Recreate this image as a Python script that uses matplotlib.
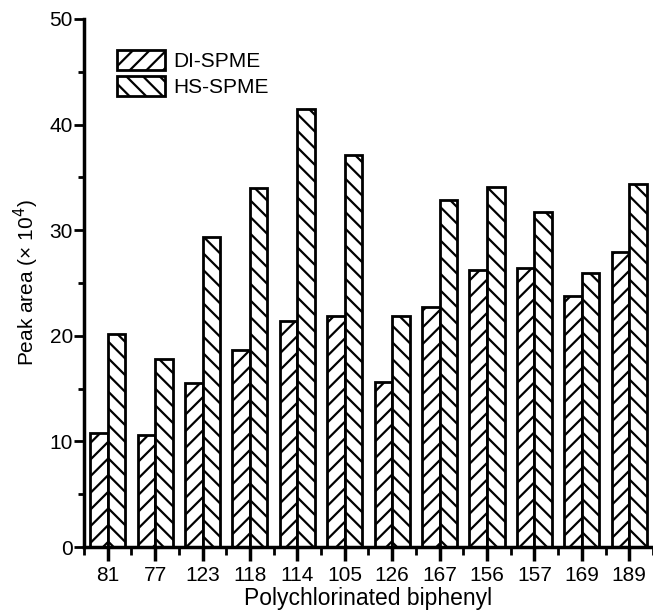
import numpy as np
import matplotlib
matplotlib.use("Agg")
from matplotlib import pyplot as plt

# PCB congeners and peak areas (x 10^4)
congeners = ["81", "77", "123", "118", "114", "105", "126", "167", "156", "157", "169", "189"]
di_spme = [10.8, 10.6, 15.5, 18.7, 21.4, 21.9, 15.6, 22.7, 26.2, 26.4, 23.8, 27.9]
hs_spme = [20.2, 17.8, 29.4, 34.0, 41.5, 37.1, 21.9, 32.9, 34.1, 31.7, 25.9, 34.4]

plt.rcParams['font.family'] = ['Liberation Sans', 'DejaVu Sans']
plt.rcParams['hatch.linewidth'] = 1.6
plt.rcParams['font.size'] = 15

fig = plt.figure(figsize=(6.53, 6.11), dpi=100)
ax = fig.add_axes([0.1286, 0.1047, 0.8714, 0.8643])

x = np.arange(len(congeners))
w = 0.37
ax.bar(x - w / 2, di_spme, w, facecolor='white', edgecolor='black',
       linewidth=2, hatch='//', label='DI-SPME')
ax.bar(x + w / 2, hs_spme, w, facecolor='white', edgecolor='black',
       linewidth=2, hatch='\\\\', label='HS-SPME')

ax.set_xlim(-0.5, 11.5)
ax.set_ylim(0, 50)
ax.set_yticks([0, 10, 20, 30, 40, 50])
ax.set_yticks(np.arange(5, 50, 10), minor=True)
ax.set_xticks(x)
ax.set_xticklabels(congeners)
ax.set_xticks(np.arange(-0.5, 11.6, 1), minor=True)

for s in ['top', 'right']:
    ax.spines[s].set_visible(False)
for s in ['left', 'bottom']:
    ax.spines[s].set_linewidth(2.5)

ax.tick_params(axis='y', which='major', direction='out', length=7, width=2, pad=1)
ax.tick_params(axis='y', which='minor', direction='out', length=4, width=2)
ax.tick_params(axis='x', which='major', direction='out', length=10, width=2.5, pad=4)
ax.tick_params(axis='x', which='minor', direction='out', length=6, width=2)

ax.set_xlabel('Polychlorinated biphenyl', fontsize=16.5, labelpad=1)
ax.set_ylabel('Peak area (\u00d7 10$^4$)', labelpad=6)

ax.legend(loc='upper left', bbox_to_anchor=(0.058, 0.941), frameon=False,
          borderpad=0, borderaxespad=0, handlelength=2.3, handleheight=1.1,
          handletextpad=0.4, labelspacing=0.25)

fig.savefig('out.png', dpi=100)
